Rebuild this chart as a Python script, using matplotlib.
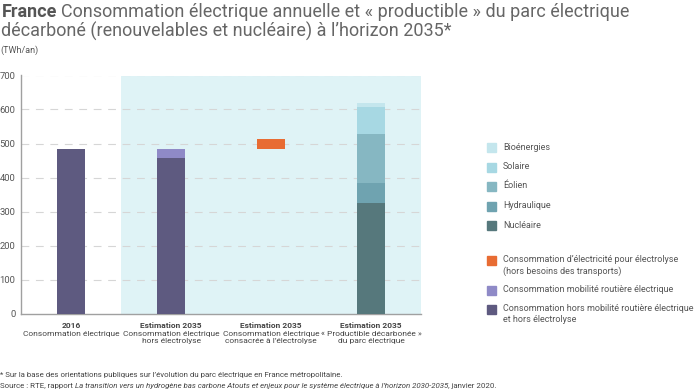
import matplotlib.pyplot as plt
from matplotlib.patches import Rectangle
import matplotlib.transforms as mtransforms

plt.rcParams['font.family'] = ['Roboto', 'DejaVu Sans']

# data (TWh/an)
cat_titles = ['2016', 'Estimation 2035', 'Estimation 2035', 'Estimation 2035']
cat_descs = ['Consommation électrique',
             'Consommation électrique\nhors électrolyse',
             'Consommation électrique\nconsacrée à l\u2019électrolyse',
             '\u00ab Productible décarbonée \u00bb\ndu parc électrique']
conso_2016 = 483
hors_mobilite_2035 = 456
mobilite_2035 = 28
electrolyse_2035 = 30
prod_names = ['Nucléaire', 'Hydraulique', 'Éolien', 'Solaire', 'Bioénergies']
prod_values = [324, 60, 143, 80, 12]
prod_colors = ['#56787c', '#6fa3b0', '#86b7c2', '#a7d8e3', '#c4e6ed']

c_hors = '#5e5a80'
c_mob = '#8f8ac7'
c_elec = '#e86c33'
c_band = '#dff3f6'

fig = plt.figure(figsize=(7, 3.92), dpi=100)
ax = fig.add_axes([21 / 700, 1 - 313.5 / 392, 400 / 700, 238 / 392])
ax.set_xlim(-0.5, 3.5)
ax.set_ylim(0, 700)

ax.axvspan(0.5, 3.5, color=c_band, zorder=0, lw=0)
for v in range(100, 701, 100):
    ax.axhline(v, color='#d6d6d6', lw=0.8, ls=(0, (7, 6)), zorder=1)

w = 0.28
ax.bar(0, conso_2016, w, color=c_hors, zorder=3)
ax.bar(1, hors_mobilite_2035, w, color=c_hors, zorder=3)
ax.bar(1, mobilite_2035, w, bottom=hors_mobilite_2035, color=c_mob, zorder=3)
ax.bar(2, electrolyse_2035, w, bottom=hors_mobilite_2035 + mobilite_2035,
       color=c_elec, zorder=3)
bottom = 0
for val, col in zip(prod_values, prod_colors):
    ax.bar(3, val, w, bottom=bottom, color=col, zorder=3)
    bottom += val

for s in ['top', 'right']:
    ax.spines[s].set_visible(False)
for s in ['left', 'bottom']:
    ax.spines[s].set_color('#a0a0a0')
    ax.spines[s].set_linewidth(1)
ax.set_xticks([])
ax.set_yticks(range(0, 701, 100))
ax.tick_params(axis='y', length=0, labelsize=6.8, labelcolor='#555555', pad=4)

# category labels
trans = mtransforms.blended_transform_factory(ax.transData, fig.transFigure)
for i, (t, d) in enumerate(zip(cat_titles, cat_descs)):
    ax.text(i, 1 - 322 / 392, t, transform=trans, ha='center', va='top',
            fontsize=6.0, fontweight='bold', color='#444444')
    ax.text(i, 1 - 331 / 392, d, transform=trans, ha='center', va='top',
            fontsize=6.0, color='#444444', linespacing=1.3)

fig.text(0, 1 - 50 / 392, '(TWh/an)', fontsize=6.5, color='#555555', va='center')

renderer = fig.canvas.get_renderer()


def runs(x, y, parts, size, **kw):
    sp = fig.text(0, 0, 'n n', fontsize=size)
    nn = fig.text(0, 0, 'nn', fontsize=size)
    space = (sp.get_window_extent(renderer).width - nn.get_window_extent(renderer).width) / 700
    sp.remove()
    nn.remove()
    for txt, style in parts:
        if txt == ' ':
            x += space
            continue
        t = fig.text(x, y, txt, fontsize=size, va='baseline', **style, **kw)
        x += t.get_window_extent(renderer).width / 700
    return x


runs(0.002, 1 - 17 / 392,
     [('France', dict(fontweight='bold', color='#555555')), (' ', {}),
      ('Consommation électrique annuelle et \u00ab productible \u00bb du parc électrique',
       dict(color='#666666'))], 13)
fig.text(0.002, 1 - 37 / 392,
         'décarboné (renouvelables et nucléaire) à l\u2019horizon 2035*',
         fontsize=13, color='#666666', va='baseline')

fig.text(0, 1 - 377 / 392,
         '* Sur la base des orientations publiques sur l\u2019évolution du parc électrique en France métropolitaine.',
         fontsize=5.7, color='#444444', va='baseline')
runs(0, 1 - 388 / 392,
     [('Source : RTE, rapport', dict(color='#444444')), (' ', {}),
      ('La transition vers un hydrogène bas carbone Atouts et enjeux pour le système électrique à l\u2019horizon 2030-2035',
       dict(color='#444444', style='italic')),
      (', janvier 2020.', dict(color='#444444'))], 5.7)

# legend
leg1_y = [147, 167, 186, 206, 225]
for name, col, yy in zip(prod_names[::-1], prod_colors[::-1], leg1_y):
    fig.patches.append(Rectangle((487 / 700, 1 - (yy + 4.5) / 392), 9 / 700, 9 / 392,
                                 transform=fig.transFigure, color=col))
    fig.text(503 / 700, 1 - yy / 392, name, fontsize=6.5, color='#555555', va='center')

leg2_names = ['Consommation d\u2019électricité pour électrolyse\n(hors besoins des transports)',
              'Consommation mobilité routière électrique',
              'Consommation hors mobilité routière électrique\net hors électrolyse']
leg2_colors = [c_elec, c_mob, c_hors]
leg2_y = [260, 290, 309]
for name, col, yy in zip(leg2_names, leg2_colors, leg2_y):
    fig.patches.append(Rectangle((487 / 700, 1 - (yy + 4.5) / 392), 9 / 700, 9 / 392,
                                 transform=fig.transFigure, color=col))
    fig.text(503 / 700, 1 - (yy - 5) / 392, name, fontsize=6.5, color='#555555',
             va='top', linespacing=1.35)

fig.savefig('out.png', dpi=100)
